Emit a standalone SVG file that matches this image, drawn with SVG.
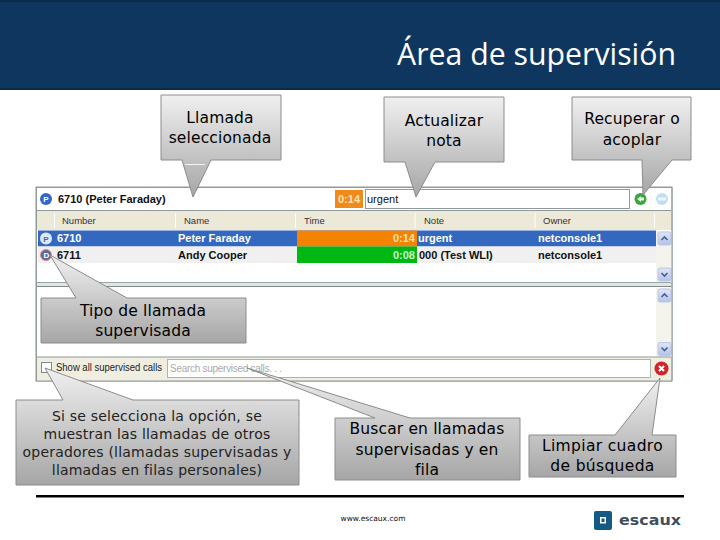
<svg xmlns="http://www.w3.org/2000/svg" width="720" height="540" viewBox="0 0 720 540">
<style>
.c{fill:url(#g);stroke:#8c8c8c;stroke-width:1}
.t{font-family:"DejaVu Sans",sans-serif;font-size:15.5px;letter-spacing:.15px;fill:#000;text-anchor:middle}
.s{font-size:14px;letter-spacing:.2px;fill:#222}
.u{font-family:"Liberation Sans",sans-serif;font-size:11px;font-weight:bold}
.h{font-family:"Liberation Sans",sans-serif;font-size:9.500px;fill:#333}
.l{stroke:#8f9a9a;fill:none}
</style>
<defs>
<linearGradient id="g" x1="0" y1="0" x2="0" y2="1"><stop offset="0" stop-color="#f0f0f0"/><stop offset="1" stop-color="#a6a6a6"/></linearGradient>
<linearGradient id="sb" x1="0" y1="0" x2="0" y2="1"><stop offset="0" stop-color="#dfe6f7"/><stop offset="1" stop-color="#b4c2ea"/></linearGradient>
<g id="up"><rect x="-6.500" y="-6.500" width="13" height="13" rx="2" fill="url(#sb)" stroke="#b9c7e8"/><path d="M-3 1.500L0-1.500L3 1.500" fill="none" stroke="#4a5f8a" stroke-width="1.600"/></g>
<g id="dn"><rect x="-6.500" y="-6.500" width="13" height="13" rx="2" fill="url(#sb)" stroke="#b9c7e8"/><path d="M-3-1.500L0 1.500L3-1.500" fill="none" stroke="#4a5f8a" stroke-width="1.600"/></g>
</defs>
<rect width="720" height="540" fill="#fff"/>
<g id="header">
<rect x="0" y="0" width="720" height="90" fill="#0e365f"/>
<path d="M0 1H720M0 89H720" stroke="#0a2a4a" stroke-width="2"/>
<text x="397" y="65" font-family="'Open Sans',sans-serif" font-size="31" fill="#fff" textLength="279" lengthAdjust="spacingAndGlyphs">Área de supervisión</text>
</g>
<g id="window">
<rect x="36" y="187" width="636" height="194" fill="#fff" stroke="#8f9a9a"/>
<circle cx="46" cy="199" r="6" fill="#3468c8"/>
<text x="43.300" y="202" font-family="'Liberation Sans',sans-serif" font-size="8" font-weight="bold" fill="#fff">P</text>
<text x="58" y="203" class="u" fill="#111">6710 (Peter Faraday)</text>
<rect x="335" y="190" width="28" height="18" fill="#f08a1c"/>
<text x="349" y="203" class="u" fill="#fbe3b0" text-anchor="middle">0:14</text>
<rect x="365.500" y="189.500" width="264" height="19" fill="#fff" stroke="#8f9a9a"/>
<text x="367" y="203" class="u" fill="#111" style="font-weight:normal">urgent</text>
<circle cx="640.500" cy="199" r="6" fill="#3aa53a"/><path d="M637 199L641 196V202Z M640 197.500H644V200.500H640Z" fill="#e8f5e8"/>
<circle cx="662" cy="199" r="6" fill="#bfe0f2"/><path d="M658 199H666" stroke="#eef7fc" stroke-width="3"/>
<rect x="37" y="211" width="634" height="19" fill="#ece9d8"/>
<path class="l" d="M37 210.500H671"/>
<path d="M54.500 213V228M175.500 213V228M295.500 213V228M415 213V228M535 213V228M654.500 213V228" stroke="#fff" fill="none"/>
<text x="62" y="224" class="h">Number</text>
<text x="184" y="224" class="h">Name</text>
<text x="304" y="224" class="h">Time</text>
<text x="424" y="224" class="h">Note</text>
<text x="543" y="224" class="h">Owner</text>
<rect x="38" y="230.500" width="618" height="16" fill="#3468c0"/>
<rect x="38" y="246.500" width="618" height="16.500" fill="#f0f0f0"/>
<rect x="297" y="230.500" width="120" height="16" fill="#f58200"/>
<rect x="297" y="246.500" width="120" height="16.500" fill="#00b814"/>
<circle cx="46" cy="238.500" r="6" fill="#dfe8fa"/><text x="43.300" y="241.500" font-family="'Liberation Sans',sans-serif" font-size="8" font-weight="bold" fill="#3468c0">P</text>
<circle cx="46" cy="255" r="5.500" fill="#5a6a9a" stroke="#e08a8a"/><text x="43.500" y="258" font-family="'Liberation Sans',sans-serif" font-size="8" font-weight="bold" fill="#fff">D</text>
<g class="u" fill="#fff">
<text x="57" y="242">6710</text><text x="178" y="242">Peter Faraday</text><text x="415" y="242" text-anchor="end" fill="#fbe3b0">0:14</text><text x="418" y="242">urgent</text><text x="538" y="242">netconsole1</text>
<text x="415" y="259" text-anchor="end" fill="#c8f5c8">0:08</text>
</g>
<g class="u" fill="#111">
<text x="57" y="259">6711</text><text x="178" y="259">Andy Cooper</text><text x="419" y="259">000 (Test WLI)</text><text x="538" y="259">netconsole1</text>
</g>
<rect x="656" y="231" width="16" height="51" fill="#f5f4ec"/>
<rect x="656" y="288" width="16" height="69" fill="#f5f4ec"/>
<rect x="37" y="282" width="634" height="5" fill="#e4e4e4"/>
<path d="M37 282.500H671" stroke="#9aa5a5"/><path d="M37 286.500H671" stroke="#7f8a8a" stroke-width="1.200"/>
<use href="#up" x="664.500" y="238.500"/>
<use href="#dn" x="664.500" y="274.500"/>
<use href="#up" x="664.500" y="295.500"/>
<use href="#dn" x="664.500" y="349"/>
<rect x="37" y="357" width="634" height="24" fill="#f0eee0"/>
<path d="M37 357H671" stroke="#8f9a9a"/>
<rect x="41.500" y="362.500" width="10" height="10" fill="#fff" stroke="#7f8a9a"/>
<text x="56" y="371" font-family="'Liberation Sans',sans-serif" font-size="10" fill="#222" textLength="106" lengthAdjust="spacingAndGlyphs">Show all supervised calls</text>
<rect x="167.500" y="359.500" width="483" height="18" fill="#fff" stroke="#a9b5b5"/>
<text x="170" y="372" font-family="'Liberation Sans',sans-serif" font-size="10" fill="#aaa" textLength="112">Search supervised calls. . .</text>
<circle cx="661.500" cy="368.500" r="7" fill="#d0232a"/><path d="M659 366L664 371M664 366L659 371" stroke="#fff" stroke-width="2"/>
<path d="M36 187.500H672M36.500 187V381H672V187" fill="none" stroke="#8f9a9a"/>
</g>
<g id="callouts">
<g id="llamada"><path class="c" d="M161 95H281V160H211L193 197L182 160H161Z"/><path d="M185 164.500H205" stroke="#f4f4f4"/>
<text class="t" x="220" y="123">Llamada</text><text class="t" x="220" y="143">seleccionada</text></g>
<g id="actualizar"><path class="c" d="M384 97H504V162H435L416 197L405 162H384Z"/>
<text class="t" x="444" y="126">Actualizar</text><text class="t" x="444" y="146">nota</text></g>
<g id="recuperar"><path class="c" d="M572 97H691V160H672L643 195L642 160H572Z"/>
<text class="t" x="632" y="124">Recuperar o</text><text class="t" x="632" y="145">acoplar</text></g>
<g id="tipo"><path class="c" d="M41 298H76L50 255L127 298H246V343H41Z"/>
<text class="t" x="143" y="316">Tipo de llamada</text><text class="t" x="143" y="336">supervisada</text></g>
<g id="opcion"><path class="c" d="M16 400H63L45 368L133 400H299V485H16Z"/>
<text class="t s" x="157" y="421">Si se selecciona la opción, se</text><text class="t s" x="157" y="439">muestran las llamadas de otros</text><text class="t s" x="157" y="457">operadores (llamadas supervisadas  y</text><text class="t s" x="157" y="475">llamadas en filas personales)</text></g>
<g id="buscar"><path class="c" d="M335 418H375L247 368L410 418H520V480H335Z"/>
<text class="t" x="427" y="434">Buscar en llamadas</text><text class="t" x="427" y="455">supervisadas y en</text><text class="t" x="427" y="475">fila</text></g>
<g id="limpiar"><path class="c" d="M529 435H615L660 378L652 435H676V477H529Z"/>
<text class="t" x="602.500" y="451" style="letter-spacing:.35px">Limpiar cuadro</text><text class="t" x="602.500" y="471" style="letter-spacing:.35px">de búsqueda</text></g>
</g>
<g id="footer">
<rect x="36" y="495" width="648" height="2.500" fill="#000"/>
<text x="373" y="521" text-anchor="middle" font-family="'DejaVu Sans',sans-serif" font-size="7.500" fill="#111">www.escaux.com</text>
<rect x="594" y="511" width="18" height="19" rx="2" fill="#155a86"/><rect x="600" y="517" width="6" height="6.500" fill="#fff"/><rect x="601.500" y="518.500" width="3" height="3.500" fill="#155a86"/>
<text x="619" y="525" font-family="'DejaVu Sans',sans-serif" font-size="14" font-weight="bold" fill="#3f4f5f" textLength="62" lengthAdjust="spacingAndGlyphs">escaux</text>
</g>
</svg>
